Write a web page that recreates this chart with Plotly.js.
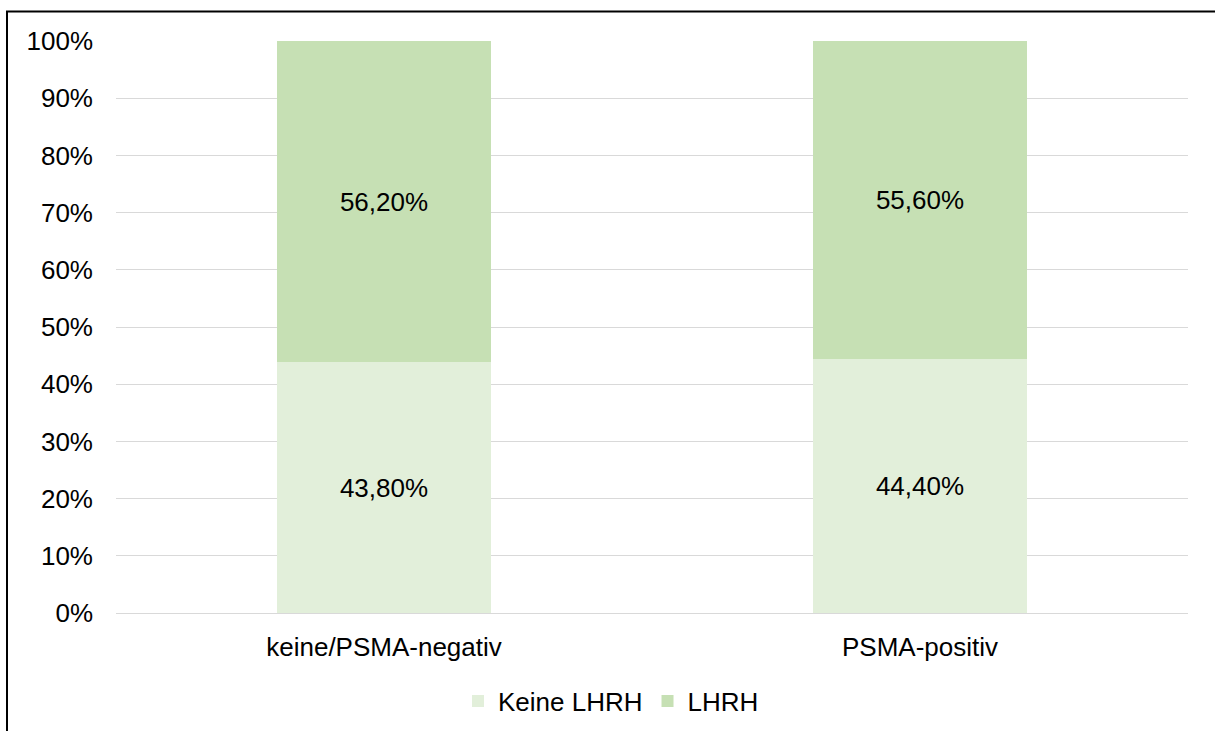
<!DOCTYPE html>
<html>
<head>
<meta charset="utf-8">
<script src="https://cdn.plot.ly/plotly-3.0.1.min.js"></script>
<style>html,body{margin:0;padding:0;background:#fff;}#chart{width:1215px;height:731px;}</style>
</head>
<body>
<div id="chart"></div>
<script>
const categories = ["keine/PSMA-negativ", "PSMA-positiv"];
const keineLHRH = [43.8, 44.4];
const lhrh = [56.2, 55.6];
const seriesNames = ["Keine LHRH", "LHRH"];
const yTickVals = [0, 10, 20, 30, 40, 50, 60, 70, 80, 90, 100];
const yTickLabels = ["0%", "10%", "20%", "30%", "40%", "50%", "60%", "70%", "80%", "90%", "100%"];

const FONT = "Liberation Sans, Arial, sans-serif";
const W = 1215, H = 731;
const L = 116, R = 27, T = 41, B = 118;
const pw = W - L - R, ph = H - T - B;
function px(x){ return (x - L) / pw; }
function py(y){ return (H - B - y) / ph; }

const common = {
  type: "bar",
  x: categories,
  texttemplate: "%{y:.2f}%",
  textposition: "inside",
  insidetextanchor: "middle",
  textangle: 0,
  textfont: {family: FONT, size: 26, color: "#000"},
  hoverinfo: "skip"
};

const traces = [
  Object.assign({}, common, {y: keineLHRH, name: seriesNames[0], marker: {color: "#e2efda"}}),
  Object.assign({}, common, {y: lhrh, name: seriesNames[1], marker: {color: "#c6e0b4"}})
];

const layout = {
  width: W, height: H,
  margin: {l: L, r: R, t: T, b: B, pad: 0, autoexpand: false},
  paper_bgcolor: "#fff", plot_bgcolor: "#fff",
  font: {family: FONT, size: 26, color: "#000"},
  separators: ",.",
  barmode: "stack",
  bargap: 0.6,
  showlegend: true,
  legend: {
    orientation: "h", traceorder: "normal",
    x: px(611), xanchor: "center", y: py(701), yanchor: "middle",
    font: {family: FONT, size: 26, color: "#000"},
    itemwidth: 30, bgcolor: "rgba(0,0,0,0)"
  },
  xaxis: {
    type: "category", showgrid: false, zeroline: false, showline: false,
    automargin: false,
    ticks: "", ticklabelstandoff: 16,
    tickfont: {family: FONT, size: 26, color: "#000"}
  },
  yaxis: {
    range: [0, 100], tickvals: yTickVals, ticktext: yTickLabels,
    automargin: false,
    showgrid: true, gridcolor: "#d9d9d9", gridwidth: 1,
    zeroline: true, zerolinecolor: "#d9d9d9", zerolinewidth: 1,
    showline: false, ticks: "", ticklabelstandoff: 22,
    tickfont: {family: FONT, size: 26, color: "#000"}
  },
  shapes: [
    {type: "line", xref: "paper", yref: "paper", x0: px(7), x1: px(7), y0: py(11.5), y1: py(735), line: {color: "#000", width: 2}},
    {type: "line", xref: "paper", yref: "paper", x0: px(6), x1: px(1220), y0: py(11.5), y1: py(11.5), line: {color: "#000", width: 2}}
  ]
};

Plotly.newPlot("chart", traces, layout, {displayModeBar: false, staticPlot: true});
</script>
</body>
</html>
